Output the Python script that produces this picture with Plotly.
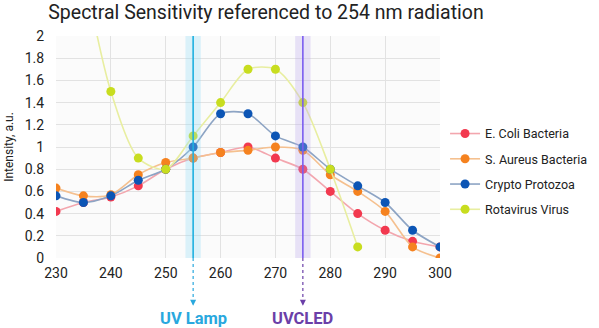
import plotly.graph_objects as go

wavelength = [230, 235, 240, 245, 250, 255, 260, 265, 270, 275, 280, 285, 290, 295, 300]
e_coli    = [0.42, 0.50, 0.55, 0.65, 0.80, 0.90, 0.95, 1.00, 0.90, 0.80, 0.60, 0.40, 0.25, 0.15, 0.10]
s_aureus  = [0.63, 0.56, 0.57, 0.75, 0.86, 0.90, 0.95, 0.97, 1.00, 0.97, 0.75, 0.60, 0.42, 0.10, 0.00]
crypto    = [0.56, 0.50, 0.56, 0.70, 0.80, 1.00, 1.30, 1.30, 1.10, 1.00, 0.80, 0.65, 0.50, 0.25, 0.10]
rota_x    = [235, 240, 245, 250, 255, 260, 265, 270, 275, 280, 285]
rotavirus = [2.60, 1.50, 0.90, 0.80, 1.10, 1.40, 1.70, 1.70, 1.40, 0.80, 0.10]

series = [
    ("E. Coli Bacteria", wavelength, e_coli, "#f2394f", "#f3a6ae"),
    ("S. Aureus Bacteria", wavelength, s_aureus, "#f5821f", "#f5c08f"),
    ("Crypto Protozoa", wavelength, crypto, "#0c55b5", "#8da4c4"),
    ("Rotavirus Virus", rota_x, rotavirus, "#c8dd1f", "#e8eea0"),
]

fig = go.Figure()
for name, xs, ys, mc, lc in series:
    fig.add_trace(go.Scatter(
        x=xs, y=ys, name=name, mode="lines+markers", legendgroup=name,
        line=dict(color=lc, width=1.6, shape="spline", smoothing=0.8),
        marker=dict(color=mc, size=9),
    ))

lamps = [(255, "UV Lamp", "#29a8de", "#8fdcf5", "#1fb0e0"), (275, "UVCLED", "#6b3fa8", "#b9a6ec", "#7b5cf0")]
shapes = []
annotations = []
for xv, label, tc, glow, lc in lamps:
    shapes.append(dict(type="rect", xref="x", yref="paper", x0=xv - 1.4, x1=xv + 1.4, y0=0, y1=1,
                       fillcolor=glow, opacity=0.3, line=dict(width=0), layer="above"))
    shapes.append(dict(type="line", xref="x", yref="paper", x0=xv, x1=xv, y0=0, y1=1,
                       line=dict(color=lc, width=1.6), layer="above"))
    shapes.append(dict(type="line", xref="x", yref="paper", x0=xv, x1=xv, y0=0, y1=-0.2,
                       line=dict(color=tc, width=1.2, dash="dot")))
    annotations.append(dict(x=xv, y=-0.215, xref="x", yref="paper", text="", showarrow=True,
                            arrowhead=2, arrowsize=1, arrowwidth=1.2, arrowcolor=tc, ax=0, ay=-6))
    annotations.append(dict(x=xv, y=-0.272, xref="x", yref="paper", text="<b>%s</b>" % label,
                            showarrow=False, font=dict(size=16.5, color=tc, family="Roboto"),
                            yanchor="middle"))

fig.update_layout(
    width=599, height=328,
    margin=dict(l=56, r=159, t=36, b=70, autoexpand=False),
    paper_bgcolor="white", plot_bgcolor="#fbfbfb",
    font=dict(family="Roboto", size=12, color="#222"),
    title=dict(text="Spectral Sensitivity referenced to 254 nm radiation", x=266 / 599, xanchor="center",
               y=0.963, yanchor="middle", font=dict(size=19.5, color="#222")),
    xaxis=dict(range=[230, 300], dtick=10, showgrid=True, gridcolor="#e2e2e2", zeroline=False,
               showline=False, ticks="outside", ticklen=2, tickcolor="rgba(0,0,0,0)",
               tickfont=dict(size=14), automargin=False),
    yaxis=dict(range=[0, 2], dtick=0.2, showgrid=True, gridcolor="#e2e2e2", zeroline=False,
               showline=False, ticks="outside", ticklen=8, tickcolor="rgba(0,0,0,0)",
               tickfont=dict(size=14), automargin=False,
               title=dict(text="Intensity, a.u.", font=dict(size=12), standoff=8)),
    legend=dict(xref="container", x=0.743, y=0.39, xanchor="left", yanchor="middle", font=dict(size=12.5),
                tracegroupgap=6, itemwidth=30, bgcolor="rgba(0,0,0,0)"),
    shapes=shapes, annotations=annotations,
    showlegend=True,
)
fig.write_html("out.html")
